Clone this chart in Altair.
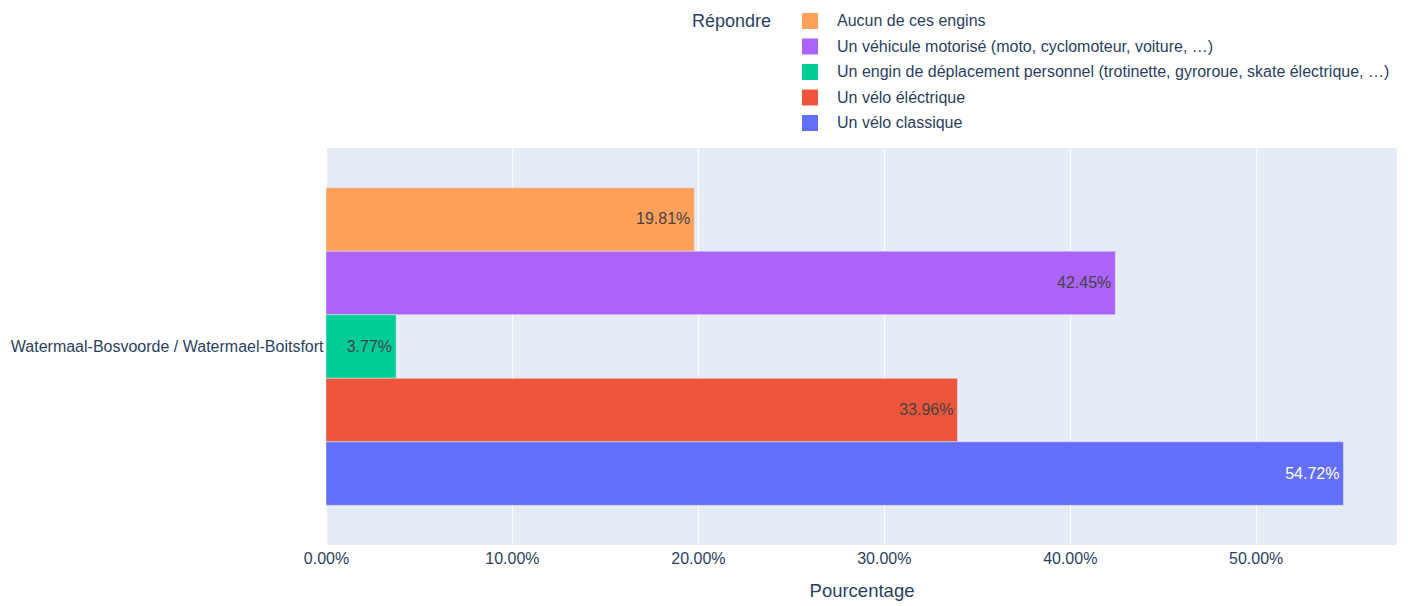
import altair as alt
import pandas as pd

communes = ["Watermaal-Bosvoorde / Watermael-Boitsfort"] * 5
reponses = [
    "Aucun de ces engins",
    "Un véhicule motorisé (moto, cyclomoteur, voiture, …)",
    "Un engin de déplacement personnel (trotinette, gyroroue, skate électrique, …)",
    "Un vélo éléctrique",
    "Un vélo classique",
]
valeurs = [0.1981, 0.4245, 0.0377, 0.3396, 0.5472]
couleurs = ["#FFA15A", "#AB63FA", "#00CC96", "#EF553B", "#636EFA"]
ticks = [0.0, 0.1, 0.2, 0.3, 0.4, 0.5]

df = pd.DataFrame({"commune": communes, "reponse": reponses, "valeur": valeurs})

FONT = "Liberation Sans, Arial, sans-serif"
TXT = "#2a3f5f"

y_enc = alt.Y(
    "commune:N",
    title=None,
    scale=alt.Scale(paddingInner=0.2, paddingOuter=0.1),
    axis=alt.Axis(ticks=False, domain=False, labelPadding=3, labelLimit=400,
                  labelFontSize=16, labelColor=TXT),
)
yoff_enc = alt.YOffset("reponse:N", sort=reponses, scale=alt.Scale(paddingInner=0, paddingOuter=0))
x_enc = alt.X(
    "valeur:Q",
    title="Pourcentage",
    scale=alt.Scale(domain=[0, 0.576], nice=False, zero=True),
    axis=alt.Axis(values=ticks, format=".2%", ticks=False, domain=False,
                  labelFontSize=16, labelColor=TXT, labelPadding=5, labelFlush=False,
                  titleFontSize=18.5, titleColor=TXT, titleFontWeight="normal",
                  titlePadding=15, gridColor="white", gridWidth=1),
)

bars = alt.Chart(df).mark_bar(stroke="#E5ECF6", strokeWidth=0.5).encode(
    y=y_enc,
    yOffset=yoff_enc,
    x=x_enc,
    color=alt.Color(
        "reponse:N",
        sort=reponses,
        scale=alt.Scale(domain=reponses, range=couleurs),
        legend=alt.Legend(
            title="Répondre", orient="none", legendX=366, legendY=-135,
            titleOrient="left", titleAnchor="start", titleFontSize=18, titleColor=TXT,
            titleFontWeight="normal", titlePadding=30, titleBaseline="top",
            labelFontSize=16, labelColor=TXT, labelOffset=19, labelLimit=700,
            symbolType="square", symbolSize=256, symbolStrokeWidth=0,
            rowPadding=9.5,
        ),
    ),
)

labels = alt.Chart(df).mark_text(align="right", baseline="middle", dx=-4, fontSize=16).encode(
    y=y_enc,
    yOffset=yoff_enc,
    x=x_enc,
    text=alt.Text("valeur:Q", format=".2%"),
    color=alt.condition(alt.datum.reponse == "Un vélo classique", alt.value("white"), alt.value("#444444")),
)

chart = alt.layer(bars, labels).properties(
    width=1071,
    height=397,
    autosize=alt.AutoSizeParams(type="none"),
    padding={"left": 318, "top": 140, "right": 3, "bottom": 58},
).configure(font=FONT).configure_view(fill="#E5ECF6", stroke=None)

chart.save("out.html", embed_options={"renderer": "svg", "actions": False})
